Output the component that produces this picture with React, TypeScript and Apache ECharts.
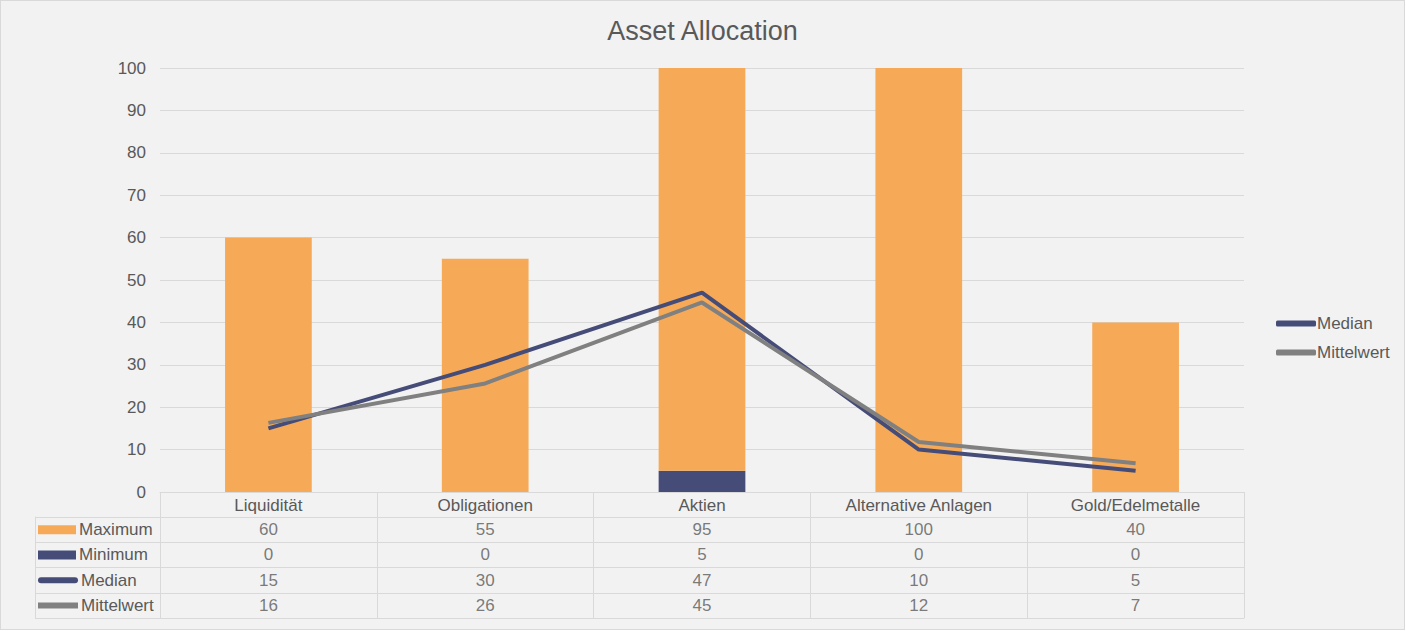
import React, { useEffect, useRef } from 'react';
import * as echarts from 'echarts';

const categories = ['Liquidität', 'Obligationen', 'Aktien', 'Alternative Anlagen', 'Gold/Edelmetalle'];
const maximum = [60, 55, 95, 100, 40];
const minimum = [0, 0, 5, 0, 0];
const median = [15, 30, 47, 10, 5];
const mittelwert = [16.3, 25.6, 44.7, 11.8, 6.8];
const rowNames = ['Maximum', 'Minimum', 'Median', 'Mittelwert'];
const yTicks = { min: 0, max: 100, interval: 10 };

const ORANGE = '#F6AA57';
const NAVY = '#454C78';
const GRAY = '#808080';
const TEXT = '#595959';
const LINE = '#D9D9D9';
const FONT = '"Liberation Sans", Arial, sans-serif';
const FS = 17;

const keyStyle: Record<string, string> = {
  Maximum: 'kMax',
  Minimum: 'kMin',
  Median: 'kMed',
  Mittelwert: 'kMit',
};

export default function App() {
  const chartRef = useRef<HTMLDivElement | null>(null);

  useEffect(() => {
    if (!chartRef.current) return;
    const chart = echarts.init(chartRef.current, undefined, { renderer: 'svg' });

    // table cells, one entry per category and row
    const rows = [maximum, minimum, median, mittelwert];
    const cells: number[][] = [];
    rows.forEach((vals, r) => {
      vals.forEach((v, i) => cells.push([i, r, Math.round(v)]));
    });

    const option = {
      animation: false,
      backgroundColor: 'transparent',
      textStyle: { fontFamily: FONT },
      title: {
        text: 'Asset Allocation',
        left: 'center',
        top: 11,
        textStyle: { color: TEXT, fontSize: 27, fontWeight: 'normal', fontFamily: FONT },
      },
      legend: {
        data: ['Median', 'Mittelwert'],
        orient: 'vertical',
        left: 1270,
        top: 309,
        itemWidth: 40,
        itemHeight: 6,
        itemGap: 12,
        icon: 'roundRect',
        textStyle: { color: TEXT, fontSize: FS, fontFamily: FONT, padding: [0, 0, 0, -4] },
      },
      grid: [
        { left: 159, right: 160, top: 67, height: 424 },
        { left: 159, right: 160, top: 516, height: 101 },
      ],
      xAxis: [
        {
          type: 'category',
          gridIndex: 0,
          data: categories,
          axisLine: { lineStyle: { color: LINE } },
          axisTick: { show: true, length: 25, lineStyle: { color: LINE } },
          axisLabel: { color: TEXT, fontSize: FS, margin: 5, interval: 0 },
        },
        {
          type: 'category',
          gridIndex: 1,
          data: categories,
          axisLine: { lineStyle: { color: LINE } },
          axisTick: { show: false },
          axisLabel: { show: false },
          splitLine: { show: true, lineStyle: { color: LINE } },
        },
      ],
      yAxis: [
        {
          type: 'value',
          gridIndex: 0,
          min: yTicks.min,
          max: yTicks.max,
          interval: yTicks.interval,
          axisLine: { show: false },
          axisTick: { show: false },
          axisLabel: { color: TEXT, fontSize: FS, margin: 14 },
          splitLine: { lineStyle: { color: LINE } },
        },
        {
          type: 'category',
          gridIndex: 1,
          inverse: true,
          data: rowNames,
          axisLine: { show: true, lineStyle: { color: LINE } },
          axisTick: { show: true, length: 125, lineStyle: { color: LINE } },
          splitLine: { show: true, lineStyle: { color: LINE } },
          axisLabel: {
            align: 'left',
            margin: 122,
            formatter: (v: string) => `{${keyStyle[v]}|}{t|${v}}`,
            rich: {
              kMax: { backgroundColor: ORANGE, width: 38, height: 9 },
              kMin: { backgroundColor: NAVY, width: 38, height: 9 },
              kMed: { backgroundColor: NAVY, width: 40, height: 6, borderRadius: 3 },
              kMit: { backgroundColor: GRAY, width: 40, height: 6 },
              t: { color: TEXT, fontSize: FS, fontFamily: FONT, padding: [0, 0, 0, 3] },
            },
          },
        },
        {
          type: 'value',
          gridIndex: 1,
          position: 'left',
          offset: 125,
          axisLine: { show: true, lineStyle: { color: LINE } },
          axisTick: { show: false },
          axisLabel: { show: false },
          splitLine: { show: false },
        },
      ],
      series: [
        {
          name: 'Minimum',
          type: 'bar',
          stack: 'range',
          barWidth: '40%',
          itemStyle: { color: NAVY },
          data: minimum,
        },
        {
          name: 'Maximum',
          type: 'bar',
          stack: 'range',
          barWidth: '40%',
          itemStyle: { color: ORANGE },
          data: maximum,
        },
        {
          name: 'Median',
          type: 'line',
          symbol: 'none',
          lineStyle: { color: NAVY, width: 4 },
          itemStyle: { color: NAVY },
          data: median,
        },
        {
          name: 'Mittelwert',
          type: 'line',
          symbol: 'none',
          lineStyle: { color: GRAY, width: 4 },
          itemStyle: { color: GRAY },
          data: mittelwert,
        },
        {
          name: 'table',
          type: 'scatter',
          xAxisIndex: 1,
          yAxisIndex: 1,
          symbolSize: 0,
          silent: true,
          label: {
            show: true,
            position: 'inside',
            color: TEXT,
            fontSize: FS,
            fontFamily: FONT,
            formatter: (p: any) => String(p.value[2]),
          },
          data: cells,
        },
      ],
    };

    chart.setOption(option);
    return () => {
      chart.dispose();
    };
  }, []);

  return (
    <div
      style={{
        position: 'fixed',
        left: 0,
        top: 0,
        width: 1405,
        height: 630,
        boxSizing: 'border-box',
        border: '1px solid #D9D9D9',
        background: '#F2F2F2',
      }}
    >
      <div ref={chartRef} style={{ width: 1403, height: 628 }} />
    </div>
  );
}
